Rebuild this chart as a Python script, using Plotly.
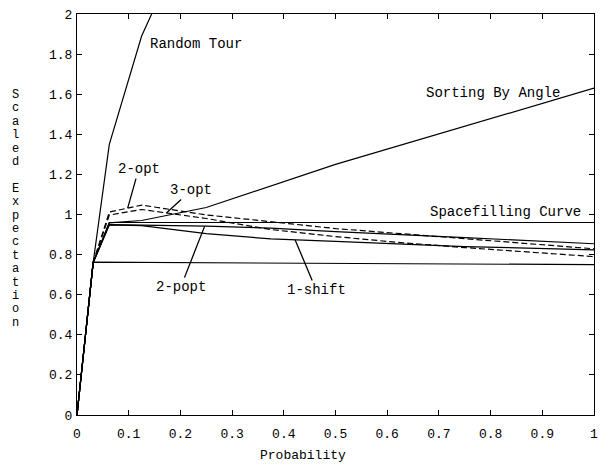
import plotly.graph_objects as go

# ---- data ----
random_x = [0, 0.03125, 0.0625, 0.125, 0.25]
random_y = [0, 0.76, 1.35, 1.89, 2.6]

angle_x = [0, 0.03125, 0.0625, 0.125, 0.25, 0.5, 1.0]
angle_y = [0, 0.76, 0.958, 0.97, 1.035, 1.25, 1.63]

space_x = [0, 0.03125, 0.0625, 1.0]
space_y = [0, 0.76, 0.96, 0.96]

opt2_x = [0, 0.03125, 0.0625, 0.125, 0.25, 0.5, 1.0]
opt2_y = [0, 0.76, 1.012, 1.047, 0.998, 0.93, 0.829]

opt3_x = [0, 0.03125, 0.0625, 0.125, 0.25, 0.375, 0.5, 0.625, 0.75, 0.875, 1.0]
opt3_y = [0, 0.76, 0.997, 1.025, 0.98, 0.925, 0.89, 0.86, 0.835, 0.812, 0.79]

popt2_x = [0, 0.03125, 0.0625, 0.125, 0.25, 0.375, 0.5, 0.75, 1.0]
popt2_y = [0, 0.76, 0.95, 0.948, 0.942, 0.932, 0.915, 0.885, 0.854]

shift1_x = [0, 0.03125, 0.0625, 0.125, 0.25, 0.375, 0.5, 0.75, 1.0]
shift1_y = [0, 0.76, 0.948, 0.945, 0.905, 0.878, 0.866, 0.84, 0.824]

bound_x = [0, 0.03125, 1.0]
bound_y = [0, 0.762, 0.75]

x_tickvals = [0, 0.1, 0.2, 0.3, 0.4, 0.5, 0.6, 0.7, 0.8, 0.9, 1]
x_ticktext = ["0", "0.1", "0.2", "0.3", "0.4", "0.5", "0.6", "0.7", "0.8", "0.9", "1"]
y_tickvals = [0, 0.2, 0.4, 0.6, 0.8, 1, 1.2, 1.4, 1.6, 1.8, 2]
y_ticktext = ["0", "0.2", "0.4", "0.6", "0.8", "1", "1.2", "1.4", "1.6", "1.8", "2"]

x_title = "Probability"
y_title = "Scaled Expectation"

FONT = "Courier New, Liberation Mono, monospace"
LW = 1.2

fig = go.Figure()

series = [
    (random_x, random_y, "Random Tour", "solid"),
    (angle_x, angle_y, "Sorting By Angle", "solid"),
    (space_x, space_y, "Spacefilling Curve", "solid"),
    (opt2_x, opt2_y, "2-opt", "6px,3px"),
    (opt3_x, opt3_y, "3-opt", "6px,3px"),
    (popt2_x, popt2_y, "2-popt", "solid"),
    (shift1_x, shift1_y, "1-shift", "solid"),
    (bound_x, bound_y, "bound", "solid"),
]
for xs, ys, name, dash in series:
    fig.add_trace(go.Scatter(x=xs, y=ys, mode="lines", name=name,
                             line=dict(color="black", width=LW, dash=dash),
                             showlegend=False, hoverinfo="skip"))

annotations = []
# plain labels
for text, x, y in [("Random Tour", 0.23, 1.85),
                   ("Sorting By Angle", 0.804, 1.606),
                   ("Spacefilling Curve", 0.829, 1.012)]:
    annotations.append(dict(x=x, y=y, xref="x", yref="y", text=text,
                            showarrow=False, font=dict(family=FONT, size=14, color="black")))
# labels with pointer lines
for text, x, y, ax, ay in [("2-opt", 0.098, 1.032, 11, -39),
                           ("3-opt", 0.173, 1.008, 25, -23),
                           ("2-popt", 0.247, 0.942, -24, 61),
                           ("1-shift", 0.422, 0.873, 21, 50)]:
    annotations.append(dict(x=x, y=y, xref="x", yref="y", text=text,
                            showarrow=True, arrowhead=0, arrowwidth=1.3,
                            arrowcolor="black", ax=ax, ay=ay, standoff=0,
                            font=dict(family=FONT, size=14, color="black")))

# x title
annotations.append(dict(x=0.4376, y=-0.10, xref="paper", yref="paper", text=x_title,
                        showarrow=False, yanchor="middle",
                        font=dict(family=FONT, size=13, color="black")))
# vertical stacked y title
plot_top, plot_bottom = 14, 415
for i, ch in enumerate(y_title):
    if ch == " ":
        continue
    ypix = 95 + i * 13.4
    annotations.append(dict(x=-0.118, y=(plot_bottom - ypix) / (plot_bottom - plot_top),
                            xref="paper", yref="paper", text=ch, showarrow=False,
                            xanchor="center", yanchor="middle", borderpad=0,
                            font=dict(family=FONT, size=12, color="black")))

axis_common = dict(showgrid=False, zeroline=False, showline=True, linecolor="black",
                   linewidth=1, mirror="allticks", ticks="inside", ticklen=5,
                   tickcolor="black", tickwidth=1,
                   tickfont=dict(family=FONT, size=13, color="black"))

fig.update_layout(
    width=606, height=468,
    margin=dict(l=77, r=8, t=14, b=53),
    paper_bgcolor="white", plot_bgcolor="white",
    xaxis=dict(range=[0, 1], tickvals=x_tickvals, ticktext=x_ticktext,
               ticklabelstandoff=6, **axis_common),
    yaxis=dict(range=[0, 2], tickvals=y_tickvals, ticktext=y_ticktext,
               ticklabelstandoff=1, **axis_common),
    annotations=annotations,
)

fig.write_html("out.html", config={"displayModeBar": False},
               post_script="document.body.style.margin='0';document.body.style.padding='0';")
